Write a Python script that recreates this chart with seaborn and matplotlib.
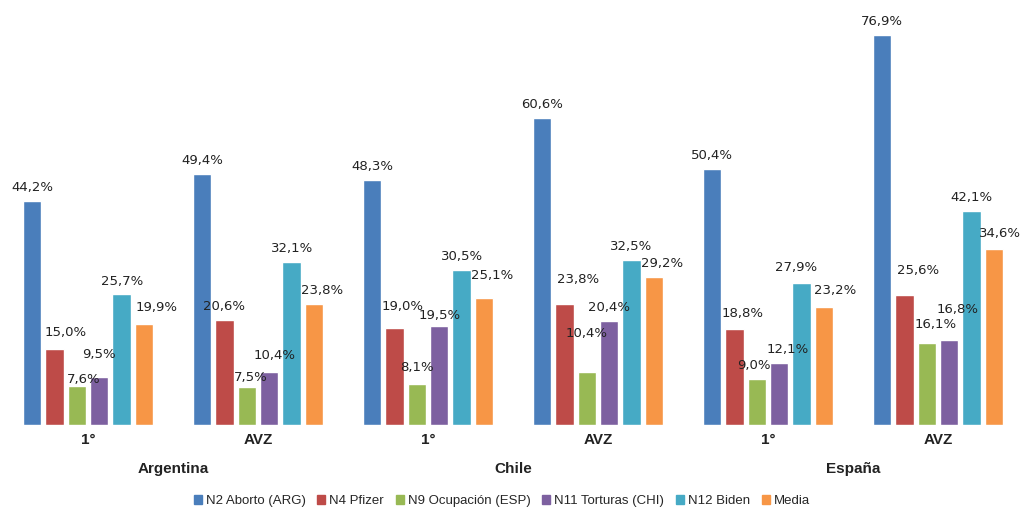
import matplotlib
matplotlib.use("Agg")
import matplotlib.pyplot as plt
import seaborn as sns
import pandas as pd

# Data
groups = ["Argentina 1°", "Argentina AVZ", "Chile 1°", "Chile AVZ", "España 1°", "España AVZ"]
tick_labels = ["1°", "AVZ", "1°", "AVZ", "1°", "AVZ"]
countries = ["Argentina", "Chile", "España"]
series = ["N2 Aborto (ARG)", "N4 Pfizer", "N9 Ocupación (ESP)", "N11 Torturas (CHI)", "N12 Biden", "Media"]

n2_aborto = [44.2, 49.4, 48.3, 60.6, 50.4, 76.9]
n4_pfizer = [15.0, 20.6, 19.0, 23.8, 18.8, 25.6]
n9_ocupacion = [7.6, 7.5, 8.1, 10.4, 9.0, 16.1]
n11_torturas = [9.5, 10.4, 19.5, 20.4, 12.1, 16.8]
n12_biden = [25.7, 32.1, 30.5, 32.5, 27.9, 42.1]
media = [19.9, 23.8, 25.1, 29.2, 23.2, 34.6]

colors = ["#4a7ebb", "#be4b48", "#98b954", "#7d60a0", "#46aac5", "#f79646"]

values = [n2_aborto, n4_pfizer, n9_ocupacion, n11_torturas, n12_biden, media]
rows = []
for s, vals in zip(series, values):
    for g, v in zip(groups, vals):
        rows.append({"Grupo": g, "Serie": s, "Valor": v})
df = pd.DataFrame(rows)

sns.set_style("white")
plt.rcParams["font.family"] = ["DejaVu Sans"]
narrow = ["Liberation Sans", "DejaVu Sans"]

fig = plt.figure(figsize=(10.24, 5.13), dpi=100)
ax = fig.add_axes([0.003, 0.172, 0.996, 0.828])

sns.barplot(data=df, x="Grupo", y="Valor", hue="Serie", order=groups,
            hue_order=series, palette=colors, width=0.79, gap=0.18,
            errorbar=None, ax=ax, legend=False, saturation=1)

ax.set_ylim(0, 83.8)
ax.set_xlim(-0.5, 5.5)
ax.set_xlabel("")
ax.set_ylabel("")
ax.set_yticks([])
ax.set_xticks(range(len(groups)))
ax.set_xticklabels(tick_labels, fontweight="bold", fontsize=11, color="#222222",
                   family=narrow)
ax.tick_params(axis="x", length=0, pad=6)
for sp in ax.spines.values():
    sp.set_visible(False)

# small nudges (points) for crowded labels: (group, series) -> (dx, dy)
nudge = {
    (0, 1): (8, 2), (0, 2): (5, -5), (0, 3): (0, 6), (0, 5): (9, 2),
    (1, 2): (3, -3), (1, 3): (4, 2), (1, 5): (6, 0),
    (2, 1): (6, 6), (2, 2): (0, 2), (2, 3): (0, -2), (2, 5): (6, 6),
    (3, 1): (10, 8), (3, 2): (0, 18), (3, 5): (6, 0),
    (4, 1): (6, 2), (4, 2): (-2, 0), (4, 3): (6, 0), (4, 4): (-4, 2), (4, 5): (8, 2),
    (5, 1): (10, 8), (5, 2): (6, 4), (5, 3): (6, 12), (5, 5): (4, 2),
}

for si, cont in enumerate(ax.containers):
    for gi, bar in enumerate(cont):
        v = values[si][gi]
        dx, dy = nudge.get((gi, si), (0, 0))
        ax.annotate(f"{v:.1f}".replace(".", ",") + "%",
                    (bar.get_x() + bar.get_width() / 2, bar.get_height()),
                    xytext=(dx, 5 + dy), textcoords="offset points",
                    ha="center", va="bottom", fontsize=9.5, color="#222222")

# country labels centred under each pair
for i, c in enumerate(countries):
    ax.text(2 * i + 0.5, -0.105, c, transform=ax.get_xaxis_transform(),
            ha="center", va="center", fontweight="bold", fontsize=11,
            color="#222222", family=narrow)

handles = [plt.Rectangle((0, 0), 1, 1, color=c) for c in colors]
fig.legend(handles, series, loc="lower center", ncol=6, frameon=False,
           prop={"family": narrow, "size": 9.5},
           handlelength=0.6, handleheight=0.6, handletextpad=0.3,
           columnspacing=0.9, bbox_to_anchor=(0.49, -0.012))

fig.savefig("out.png", dpi=100)
